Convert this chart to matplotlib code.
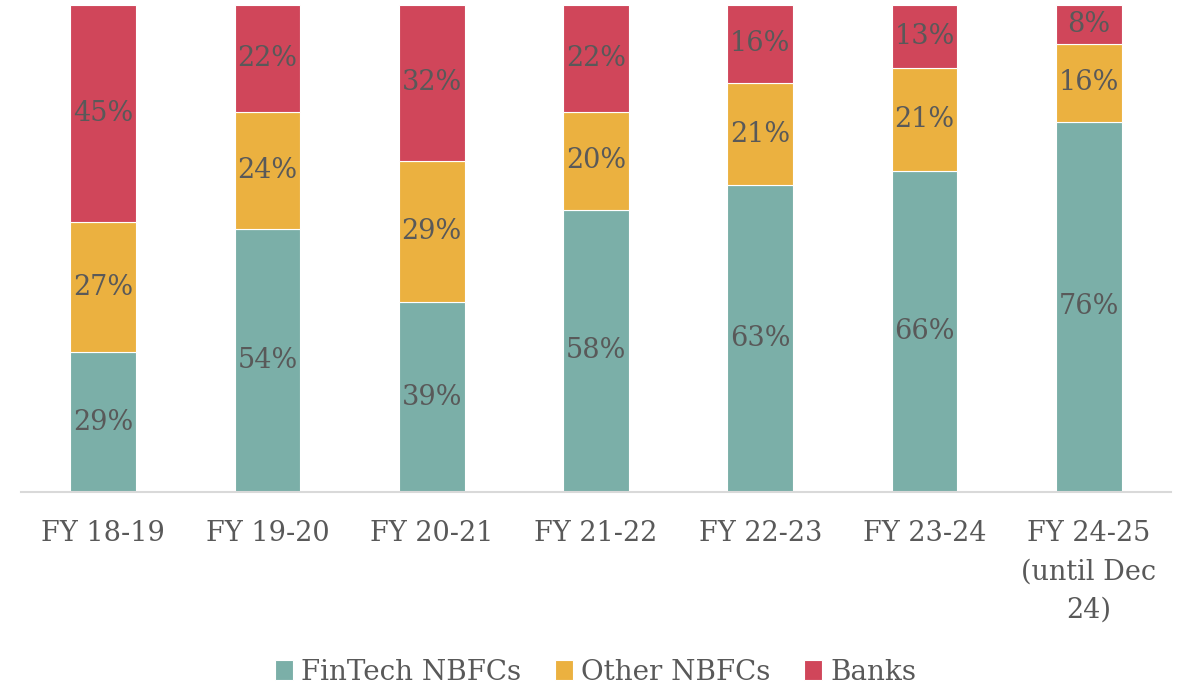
import matplotlib.pyplot as plt
import numpy as np

# shares of lending by lender type (%)
years = ['FY 18-19', 'FY 19-20', 'FY 20-21', 'FY 21-22', 'FY 22-23', 'FY 23-24',
         'FY 24-25\n(until Dec\n24)']
fintech = [29, 54, 39, 58, 63, 66, 76]
other = [27, 24, 29, 20, 21, 21, 16]
banks = [45, 22, 32, 22, 16, 13, 8]

series = [('FinTech NBFCs', fintech, '#7BAFA8'),
          ('Other NBFCs', other, '#EBB140'),
          ('Banks', banks, '#D0465A')]

plt.rcParams['font.family'] = ['DejaVu Serif']
txt = '#595959'

fig = plt.figure(figsize=(11.91, 6.90), dpi=100)
ax = fig.add_axes([21 / 1191, 198 / 690, 1150 / 1191, 487 / 690])

x = np.arange(len(years))
totals = np.array(fintech) + np.array(other) + np.array(banks)
bottom = np.zeros(len(years))
for name, vals, col in series:
    h = np.array(vals) / totals
    ax.bar(x, h, 0.4, bottom=bottom, color=col, edgecolor='white', linewidth=0.8, label=name)
    for xi, b, hi, v in zip(x, bottom, h, vals):
        ax.text(xi, b + hi / 2, f'{v}%', ha='center', va='center', fontsize=19.5, color=txt)
    bottom += h

ax.set_xlim(-0.5, len(years) - 0.5)
ax.set_ylim(0, 1)
ax.set_xticks(x)
ax.set_xticklabels(years, fontsize=19.5, color=txt, va='top', linespacing=1.55)
ax.tick_params(axis='x', length=0, pad=20)
ax.set_yticks([])
for s in ['top', 'left', 'right']:
    ax.spines[s].set_visible(False)
ax.spines['bottom'].set_color('#D9D9D9')
ax.spines['bottom'].set_linewidth(1.5)

fig.legend(loc='center', bbox_to_anchor=(0.5, 18 / 690), ncol=3, frameon=False,
           fontsize=20, labelcolor=txt, handlelength=0.65, handleheight=0.7,
           handletextpad=0.3, columnspacing=1.2)

plt.savefig('out.png', dpi=100)
plt.close()
